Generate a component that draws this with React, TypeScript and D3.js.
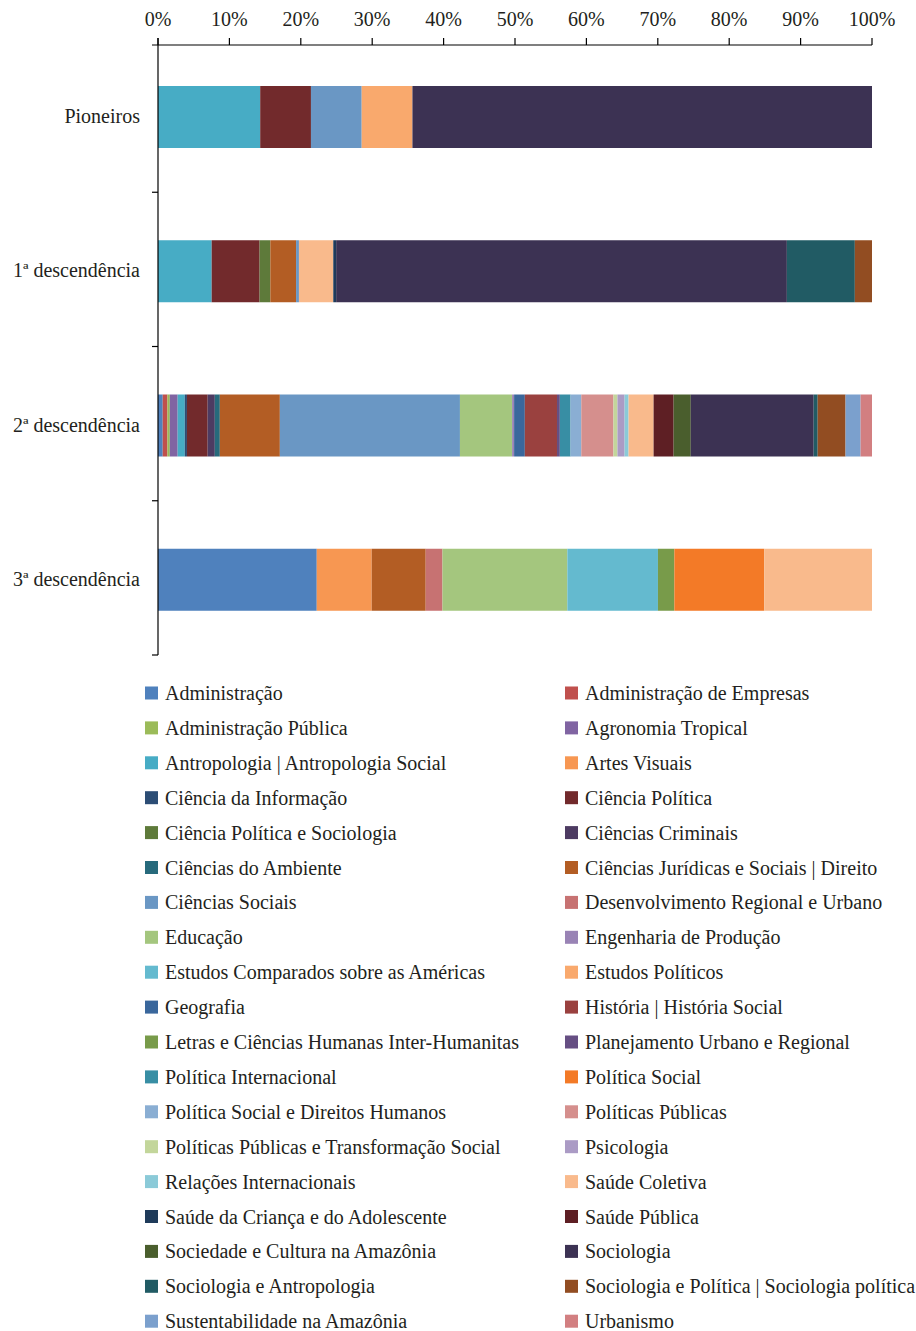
import React from "react";
import * as d3 from "d3";

const categories = ["Pioneiros", "1ª descendência", "2ª descendência", "3ª descendência"];

const fields = [
  "Administração", "Administração de Empresas", "Administração Pública", "Agronomia Tropical",
  "Antropologia | Antropologia Social", "Artes Visuais", "Ciência da Informação", "Ciência Política",
  "Ciência Política e Sociologia", "Ciências Criminais", "Ciências do Ambiente",
  "Ciências Jurídicas e Sociais | Direito", "Ciências Sociais", "Desenvolvimento Regional e Urbano",
  "Educação", "Engenharia de Produção", "Estudos Comparados sobre as Américas", "Estudos Políticos",
  "Geografia", "História | História Social", "Letras e Ciências Humanas Inter-Humanitas",
  "Planejamento Urbano e Regional", "Política Internacional", "Política Social",
  "Política Social e Direitos Humanos", "Políticas Públicas", "Políticas Públicas e Transformação Social",
  "Psicologia", "Relações Internacionais", "Saúde Coletiva", "Saúde da Criança e do Adolescente",
  "Saúde Pública", "Sociedade e Cultura na Amazônia", "Sociologia", "Sociologia e Antropologia",
  "Sociologia e Política | Sociologia política", "Sustentabilidade na Amazônia", "Urbanismo",
];

const fieldColors = [
  "#4F81BD", "#C0504D", "#9BBB59", "#8064A2",
  "#47ACC5", "#F79752", "#2C4D75", "#722A2C",
  "#5E7A3A", "#4D3B62", "#276A7C",
  "#B35D24", "#6A97C4", "#C77272",
  "#A4C67E", "#9983B5", "#64BACF", "#F9A96D",
  "#3A679C", "#9A413F", "#789B4A",
  "#664F83", "#388EA4", "#F37A27",
  "#8AAED3", "#D58F8D", "#C3D69B",
  "#AB9BC5", "#8BCAD8", "#F9BA8C", "#1F3B5A",
  "#5E1F24", "#4A5E2D", "#3C3253", "#215B64",
  "#924D22", "#7BA0CD", "#D27F81",
];

// percentages, one value per field (same order as `fields`)
const pioneiros = [
  0, 0, 0, 0, 14.3, 0, 0, 7.1, 0, 0,
  0, 0, 7.1, 0, 0, 0, 0, 7.1, 0, 0,
  0, 0, 0, 0, 0, 0, 0, 0, 0, 0,
  0, 0, 0, 64.3, 0, 0, 0, 0,
];
const primeira = [
  0, 0, 0, 0, 7.5, 0, 0, 6.7, 1.5, 0,
  0, 3.6, 0.4, 0, 0, 0, 0, 0, 0, 0,
  0, 0, 0, 0, 0, 0, 0, 0, 0, 4.8,
  0.4, 0, 0, 63.0, 9.5, 2.4, 0, 0,
];
const segunda = [
  0.66, 0.66, 0.33, 1.1, 1.0, 0, 0.3, 2.9, 0, 1.0,
  0.7, 8.4, 25.2, 0, 7.3, 0.28, 0, 0, 1.5, 4.5,
  0, 0.4, 1.5, 0, 1.5, 4.5, 0.56, 1.0, 0.56, 3.5,
  0, 2.8, 2.4, 17.2, 0.56, 3.9, 2.1, 1.6,
];
const terceira = [
  22.25, 0, 0, 0, 0, 7.7, 0, 0, 0, 0,
  0, 7.57, 0, 2.35, 17.5, 0, 12.7, 0, 0, 0,
  2.3, 0, 0, 12.6, 0, 0, 0, 0, 0, 15.1,
  0, 0, 0, 0, 0, 0, 0, 0,
];

const seriesByCategory = [pioneiros, primeira, segunda, terceira];
const tickValues = [0, 0.1, 0.2, 0.3, 0.4, 0.5, 0.6, 0.7, 0.8, 0.9, 1.0];

const W = 916;
const H = 1331;
const FONT = "'Liberation Serif', 'Times New Roman', serif";
const TEXT = "#231F20";

export default function App() {
  const x = d3.scaleLinear().domain([0, 1]).range([158, 872]);
  const y = d3.scaleBand<string>().domain(categories).range([38, 655]);
  const barH = 62;
  const barOff = 48;

  const rows = categories.map((c, i) => {
    const r: any = { category: c };
    fields.forEach((f, j) => (r[f] = seriesByCategory[i][j]));
    return r;
  });
  const stack = d3.stack<any>().keys(fields).offset(d3.stackOffsetExpand);
  const layers = stack(rows);
  const color = d3.scaleOrdinal<string, string>().domain(fields).range(fieldColors);

  const boundaries = d3.range(1, categories.length + 1).map((i) => 38 + i * y.step());

  const legendRowH = 34.9;
  const legendTop = 693;
  const colX = [145, 565];

  return (
    <svg width={W} height={H} style={{ position: "absolute", left: 0, top: 0, display: "block", fontFamily: FONT }}>
      <rect width={W} height={H} fill="#fff" />
      {/* bars */}
      {layers.map((layer) => (
        <g key={layer.key} fill={color(layer.key)}>
          {layer.map((d, i) =>
            d[1] - d[0] > 0 ? (
              <rect
                key={i}
                x={x(d[0])}
                y={(y(categories[i]) as number) + barOff}
                width={x(d[1]) - x(d[0])}
                height={barH}
              />
            ) : null
          )}
        </g>
      ))}
      {/* value axis (top) */}
      <g stroke="#000" strokeWidth={1.2}>
        <line x1={152} x2={x(1)} y1={45} y2={45} />
        {tickValues.map((t) => (
          <line key={t} x1={x(t)} x2={x(t)} y1={38} y2={45} />
        ))}
        {/* category axis */}
        <line x1={158} x2={158} y1={38} y2={655} />
        {boundaries.map((b, i) => (
          <line key={i} x1={152} x2={158} y1={b} y2={b} />
        ))}
      </g>
      {tickValues.map((t) => (
        <text key={t} x={x(t)} y={26} textAnchor="middle" fontSize={20} fill={TEXT}>
          {d3.format(".0%")(t)}
        </text>
      ))}
      {categories.map((c) => (
        <text
          key={c}
          x={140}
          y={(y(c) as number) + barOff + barH / 2 - 1}
          dy="0.35em"
          textAnchor="end"
          fontSize={20}
          fill={TEXT}
        >
          {c}
        </text>
      ))}
      {/* legend */}
      {fields.map((f, i) => {
        const col = i % 2;
        const row = Math.floor(i / 2);
        const cy = legendTop + row * legendRowH;
        return (
          <g key={f}>
            <rect x={colX[col]} y={cy - 6.5} width={13} height={13} fill={color(f)} />
            <text x={colX[col] + 20} y={cy} dy="0.35em" fontSize={20} fill={TEXT}>
              {f}
            </text>
          </g>
        );
      })}
    </svg>
  );
}
